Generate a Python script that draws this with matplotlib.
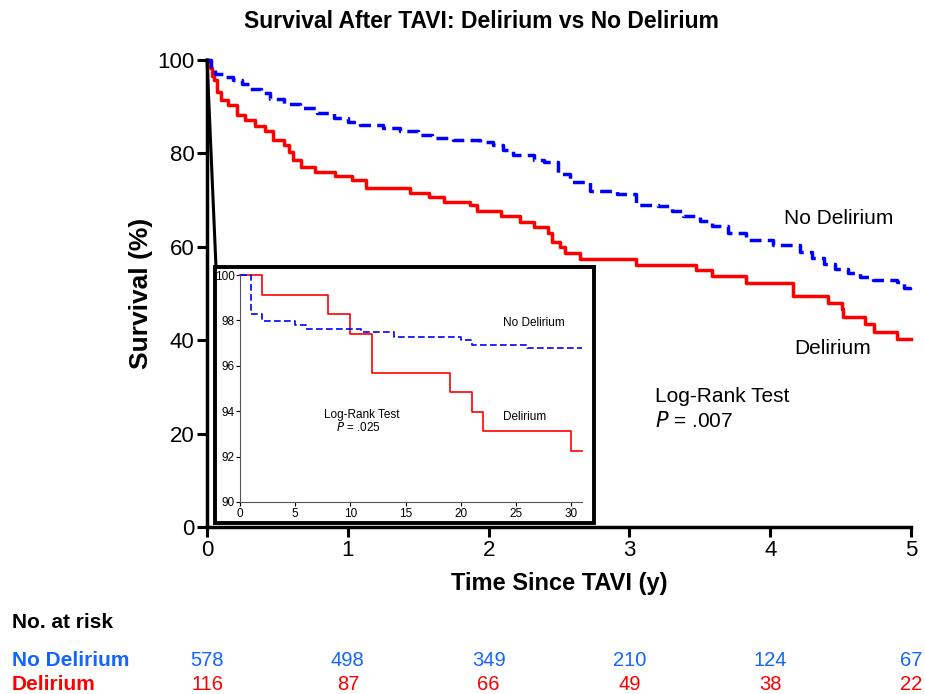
import matplotlib.pyplot as plt
from matplotlib.patches import Rectangle
from matplotlib.lines import Line2D

plt.rcParams['font.family'] = ['Liberation Sans', 'DejaVu Sans']

# main curves (years, survival %), step points
no_del_t = [0, 0.03, 0.06, 0.12, 0.185, 0.25, 0.305, 0.38, 0.45, 0.55, 0.66, 0.78, 0.9,
            1.0, 1.09, 1.25, 1.37, 1.5, 1.6, 1.75, 1.94, 2.03, 2.1, 2.17, 2.32, 2.39, 2.49,
            2.58, 2.72, 2.91, 3.05, 3.2, 3.3, 3.38, 3.5, 3.59, 3.7, 3.83, 4.02, 4.21, 4.3,
            4.38, 4.46, 4.55, 4.64, 4.73, 4.9, 4.95, 4.99, 5.0]
no_del_s = [100, 98.2, 97.0, 96.3, 95.7, 94.9, 93.9, 92.9, 91.6, 90.6, 89.7, 88.6, 87.5,
            86.8, 86.1, 85.4, 84.7, 84.0, 83.2, 82.8, 82.5, 81.8, 80.8, 79.7, 78.6, 78.1, 75.7,
            73.8, 71.9, 71.4, 68.9, 68.7, 67.6, 66.6, 65.5, 64.4, 63.0, 61.5, 60.4, 58.9, 57.6,
            56.4, 55.3, 54.3, 53.5, 53.0, 52.4, 51.2, 50.0, 50.0]

del_t = [0, 0.02, 0.035, 0.05, 0.07, 0.1, 0.15, 0.21, 0.27, 0.34, 0.41, 0.47, 0.55, 0.58,
         0.61, 0.67, 0.77, 0.91, 1.03, 1.13, 1.44, 1.58, 1.68, 1.87, 1.92, 2.09, 2.22, 2.32,
         2.42, 2.45, 2.51, 2.54, 2.65, 3.05, 3.47, 3.59, 3.83, 4.16, 4.41, 4.51, 4.52, 4.67,
         4.74, 4.90, 5.0]
del_s = [100, 98.3, 96.6, 95.7, 93.2, 91.4, 90.4, 88.2, 87.1, 85.9, 84.7, 82.9, 81.8, 80.2,
         78.6, 77.2, 76.1, 75.2, 74.3, 72.7, 71.6, 70.7, 69.7, 69.0, 67.6, 66.7, 65.4, 64.3,
         62.9, 61.1, 60.0, 58.6, 57.5, 56.2, 55.0, 53.8, 52.3, 49.5, 48.0, 46.6, 45.0, 43.5,
         41.8, 40.2, 40.2]

# inset: first 31 days
in_no_t = [0, 1, 2, 5, 6, 11, 14, 20, 21, 26, 31]
in_no_s = [100, 98.3, 97.96, 97.79, 97.63, 97.48, 97.28, 97.12, 96.93, 96.77, 96.77]
in_del_t = [0, 2, 8, 10, 12, 19, 21, 22, 30, 31]
in_del_s = [100, 99.14, 98.28, 97.41, 95.69, 94.84, 93.98, 93.12, 92.26, 92.26]

risk_years = [0, 1, 2, 3, 4, 5]
risk_no_del = [578, 498, 349, 210, 124, 67]
risk_del = [116, 87, 66, 49, 38, 22]

BLUE = '#0000ff'
RED = '#ff0000'
TBL_BLUE = '#1464ff'

fig = plt.figure(figsize=(9.25, 6.94), dpi=100)
ax = fig.add_axes([0.2238, 0.2406, 0.7611, 0.6729])

ax.step(del_t, del_s, where='post', color=RED, lw=2.5, clip_on=False, zorder=3)
ax.step(no_del_t, no_del_s, where='post', color=BLUE, lw=2.5, ls=(0, (3.4, 1.8)),
        clip_on=False, zorder=4)

ax.set_xlim(0, 5)
ax.set_ylim(0, 100)
ax.set_xticks(range(0, 6))
ax.set_yticks(range(0, 101, 20))
for s in ['top', 'right']:
    ax.spines[s].set_visible(False)
for s in ['left', 'bottom']:
    ax.spines[s].set_linewidth(2.5)
ax.tick_params(width=2.2, length=7, labelsize=16, direction='out', pad=2)
ax.set_xlabel('Time Since TAVI (y)', fontsize=17, fontweight='bold', labelpad=8)
ax.set_ylabel('Survival (%)', fontsize=19, fontweight='bold', labelpad=3)
fig.text(0.52, 0.969, 'Survival After TAVI: Delirium vs No Delirium', ha='center',
         va='center', fontsize=16.5, fontweight='bold')

ax.text(4.1, 66.0, 'No Delirium', fontsize=15, va='center')
ax.text(4.17, 38.3, 'Delirium', fontsize=15, va='center')
ax.text(3.18, 28.0, 'Log-Rank Test', fontsize=15, va='center')
ax.text(3.18, 22.6, '$\\it{P}$ = .007', fontsize=15, va='center')

# inset frame + connector
fig.add_artist(Rectangle((0.2324, 0.2464), 0.4098, 0.3689, transform=fig.transFigure,
                         fill=True, facecolor='white', edgecolor='black', lw=2.8, zorder=5))
fig.add_artist(Line2D([0.2238, 0.2335], [0.9135, 0.6153], transform=fig.transFigure,
                      color='black', lw=2.2, zorder=5))

ins = fig.add_axes([0.2595, 0.2767, 0.3697, 0.3270], zorder=6)
ins.step(in_del_t, in_del_s, where='post', color=RED, lw=1.2, clip_on=False)
ins.step(in_no_t, in_no_s, where='post', color=BLUE, lw=1.2, ls=(0, (4, 2)), clip_on=False)
ins.set_xlim(0, 31)
ins.set_ylim(90, 100)
ins.set_xticks(range(0, 31, 5))
ins.set_yticks(range(90, 101, 2))
for s in ['top', 'right']:
    ins.spines[s].set_visible(False)
for s in ['left', 'bottom']:
    ins.spines[s].set_linewidth(0.8)
    ins.spines[s].set_color('#555555')
ins.tick_params(labelsize=8.5, length=3, width=0.8, pad=1)
ins.text(26.6, 97.9, 'No Delirium', fontsize=8.5, va='center', ha='center')
ins.text(25.8, 93.75, 'Delirium', fontsize=8.5, va='center', ha='center')
ins.text(11.0, 93.83, 'Log-Rank Test', fontsize=8.5, va='center', ha='center')
ins.text(10.7, 93.26, '$\\it{P}$ = .025', fontsize=8.5, va='center', ha='center')

# number at risk table
fig.text(0.013, 0.103, 'No. at risk', fontsize=15, fontweight='bold', va='center')
fig.text(0.013, 0.048, 'No Delirium', fontsize=15, fontweight='bold', va='center',
         color=TBL_BLUE)
fig.text(0.013, 0.013, 'Delirium', fontsize=15, fontweight='bold', va='center',
         color=RED)
for yr, n1, n2 in zip(risk_years, risk_no_del, risk_del):
    xf = fig.transFigure.inverted().transform(ax.transData.transform((yr, 0)))[0]
    fig.text(xf, 0.048, str(n1), fontsize=14.5, ha='center', va='center', color=TBL_BLUE)
    fig.text(xf, 0.013, str(n2), fontsize=14.5, ha='center', va='center', color=RED)

fig.savefig('out.png', dpi=100)
